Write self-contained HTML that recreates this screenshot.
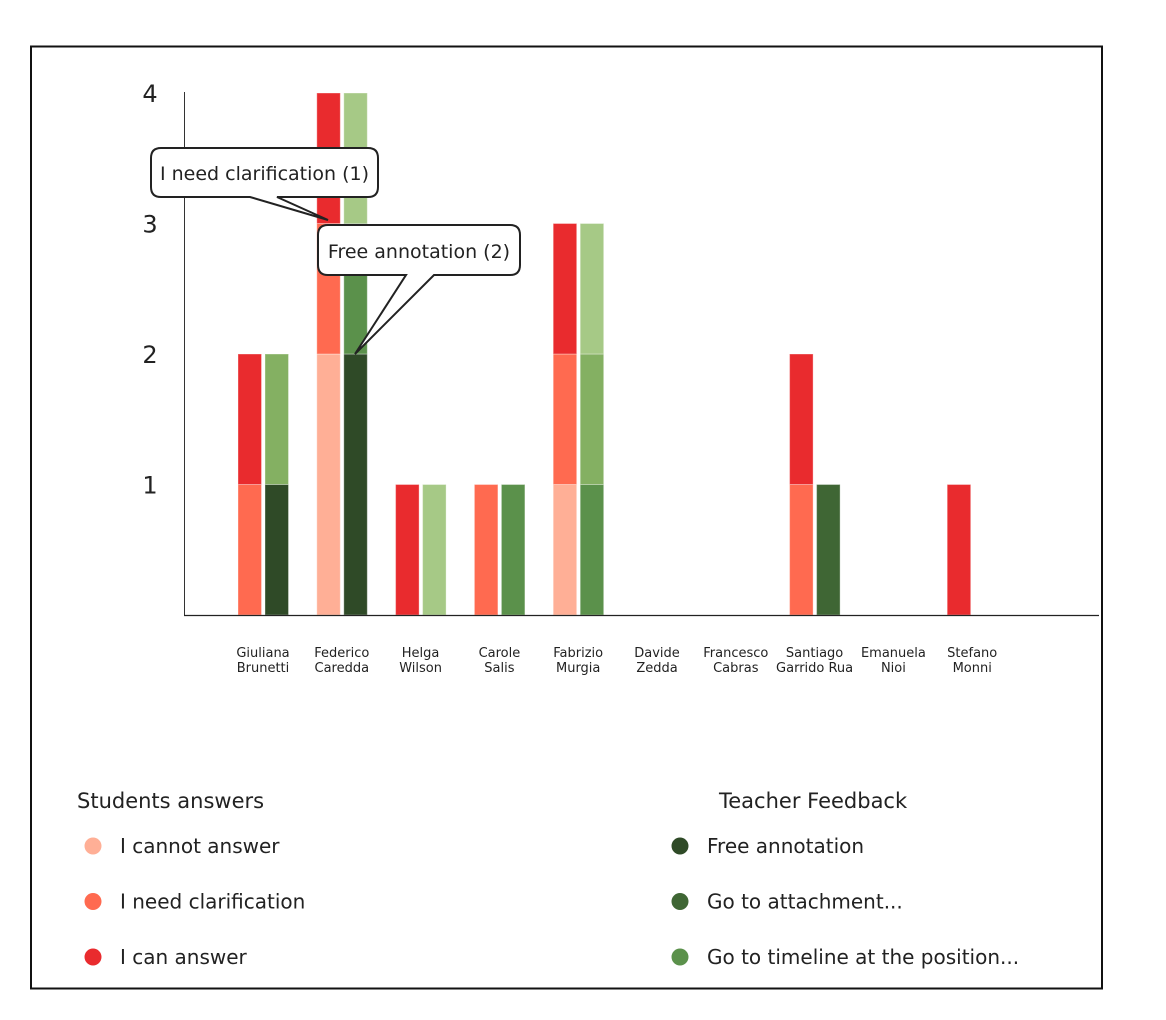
<!DOCTYPE html>
<html><head><meta charset="utf-8"><style>
html,body{margin:0;padding:0;background:#fff;}
svg{display:block;font-family:"DejaVu Sans","Liberation Sans",sans-serif;}
</style></head><body>
<svg id="chart" width="1166" height="1020" xmlns="http://www.w3.org/2000/svg">
<rect x="31" y="46.5" width="1071" height="942" fill="#fff" stroke="#111" stroke-width="2"/>
<g id="bars"></g>
<line x1="184.5" y1="92" x2="184.5" y2="615" stroke="#333" stroke-width="1"/>
<line x1="184" y1="615.5" x2="1099" y2="615.5" stroke="#222" stroke-width="1.2"/>
<g id="yticks"></g>
<g id="xlabels"></g>
<g>
<path d="M161,148 H368 Q378,148 378,158 V187 Q378,197 368,197 H277 L328,220 L250,197 H161 Q151,197 151,187 V158 Q151,148 161,148 Z" fill="#fff" stroke="#222" stroke-width="2"/>
<text x="264.5" y="180" text-anchor="middle" font-size="19" fill="#222">I need clarification (1)</text>
</g>
<g>
<path d="M328,225 H510 Q520,225 520,235 V265 Q520,275 510,275 H434 L355,354 L406,275 H328 Q318,275 318,265 V235 Q318,225 328,225 Z" fill="#fff" stroke="#222" stroke-width="2"/>
<text x="419" y="258" text-anchor="middle" font-size="19" fill="#222">Free annotation (2)</text>
</g>
<g id="legend"></g>
</svg>
<script>
const yTicks = [1,2,3,4];
const names = [["Giuliana","Brunetti"],["Federico","Caredda"],["Helga","Wilson"],["Carole","Salis"],["Fabrizio","Murgia"],["Davide","Zedda"],["Francesco","Cabras"],["Santiago","Garrido Rua"],["Emanuela","Nioi"],["Stefano","Monni"]];
const cannotAnswer = [0,2,0,0,1,0,0,0,0,0];
const needClarification = [1,1,0,1,1,0,0,1,0,0];
const canAnswer = [1,1,1,0,1,0,0,1,0,1];
const freeAnnotation = [1,2,0,0,0,0,0,0,0,0];
const goToAttachment = [0,0,0,0,0,0,0,1,0,0];
const goToTimeline = [0,1,0,1,1,0,0,0,0,0];
const feedback4 = [1,0,0,0,1,0,0,0,0,0];
const feedback5 = [0,1,1,0,1,0,0,0,0,0];
const studentSeries = [["cannot-answer",cannotAnswer,"#ffaf96"],["need-clarification",needClarification,"#ff6a50"],["can-answer",canAnswer,"#e92b2e"]];
const teacherSeries = [["free-annotation",freeAnnotation,"#2f4a27"],["go-to-attachment",goToAttachment,"#3f6634"],["go-to-timeline",goToTimeline,"#5b914b"],["other-feedback-4",feedback4,"#84b062"],["other-feedback-5",feedback5,"#a6c986"]];
const NS="http://www.w3.org/2000/svg";
const y0=615, unit=130.5;
function yScale(v){return y0 - v*unit;}
function xGroup(i){return 238 + i*78.8;}
function mk(tag,attrs,parent){const e=document.createElementNS(NS,tag);for(const k in attrs)e.setAttribute(k,attrs[k]);parent.appendChild(e);return e;}
const bars=document.getElementById('bars');
function drawStack(series,offset,prefix){
  names.forEach((n,i)=>{
    let acc=0;
    series.forEach(s=>{
      const v=s[1][i]; if(!v)return;
      const r=mk('rect',{x:xGroup(i)+offset,y:yScale(acc+v),width:23.5,height:v*unit,fill:s[2],stroke:'rgba(255,255,255,0.35)','stroke-width':1},bars);
      
      
      acc+=v;
    });
  });
}
drawStack(studentSeries,0,'student');
drawStack(teacherSeries,27,'teacher');
const yt=document.getElementById('yticks');
yTicks.forEach(t=>{
  const e=mk('text',{x:150,y:yScale(t)+9,'text-anchor':'middle','font-size':24,fill:'#222'},yt);
  
  
  e.textContent=t;
});
const xl=document.getElementById('xlabels');
names.forEach((n,i)=>{
  const e=mk('text',{x:xGroup(i)+25,y:657,'text-anchor':'middle','font-size':13,fill:'#222'},xl);
  
  
  n.forEach((line,j)=>{const ts=mk('tspan',{x:xGroup(i)+25,dy:j?15:0},e);ts.textContent=line;});
});
const lg=document.getElementById('legend');
const legendStudents=[["I cannot answer","#ffaf96"],["I need clarification","#ff6a50"],["I can answer","#e92b2e"]];
const legendTeacher=[["Free annotation","#2f4a27"],["Go to attachment...","#3f6634"],["Go to timeline at the position...","#5b914b"]];
function drawLegend(title,titleX,items,dotX,prefix){
  const t=mk('text',{x:titleX,y:808,'font-size':21,fill:'#222'},lg);
  
  
  t.textContent=title;
  items.forEach((it,k)=>{
    const yy=846+k*55.5;
    const c=mk('circle',{cx:dotX,cy:yy,r:8.5,fill:it[1]},lg);
    
    
    const tx=mk('text',{x:dotX+27,y:yy+7,'font-size':20,fill:'#222'},lg);
    
    
    tx.textContent=it[0];
  });
}
drawLegend("Students answers",77,legendStudents,93,'students');
drawLegend("Teacher Feedback",719,legendTeacher,680,'teacher');
</script>
</body></html>
